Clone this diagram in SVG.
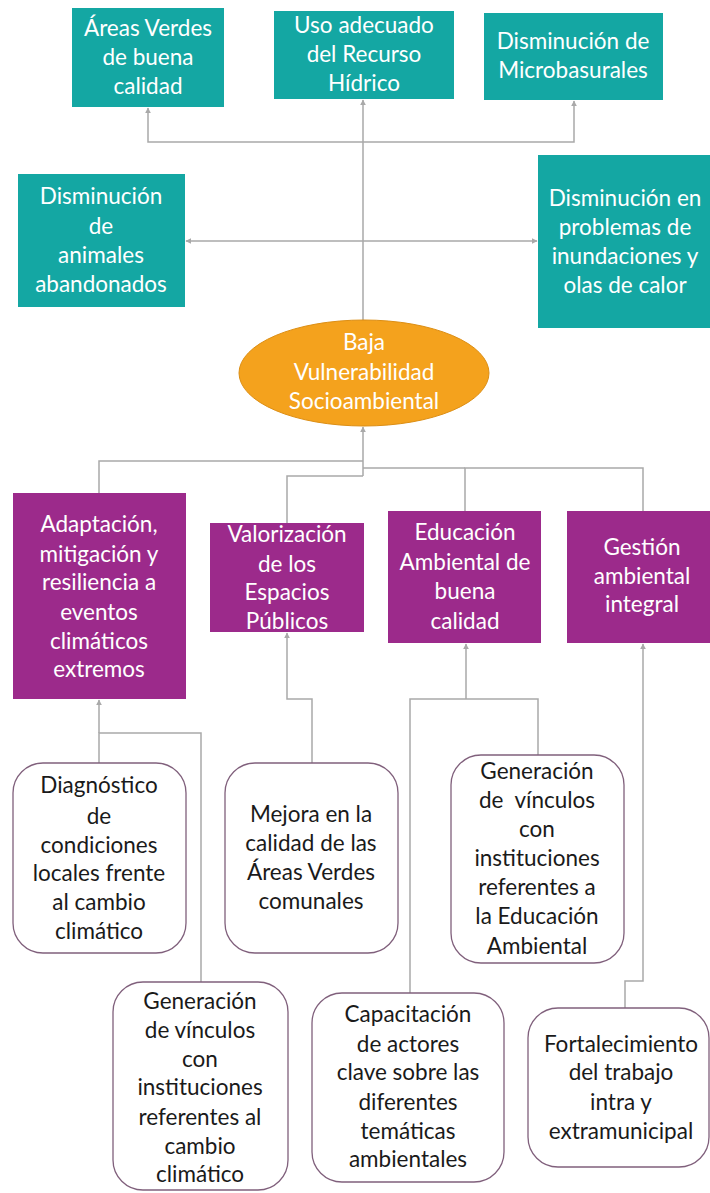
<svg xmlns="http://www.w3.org/2000/svg" width="710" height="1193" viewBox="0 0 710 1193">
<style>
.t{font-family:Lato,"Liberation Sans",sans-serif;font-size:22.5px;text-anchor:middle}
.w{fill:#ffffff}
.k{fill:#1a1a1a}
.teal{fill:#14A7A3}
.pur{fill:#9C2A8B}
.rb{fill:#ffffff;stroke:#80607C;stroke-width:1.3}
.c{fill:none;stroke:#A9A9A9;stroke-width:1.5}
</style>
<defs>
<marker id="ar" viewBox="0 0 10 10" refX="9" refY="5" markerWidth="6" markerHeight="6" markerUnits="userSpaceOnUse" orient="auto">
<path d="M0,0 L10,5 L0,10 z" fill="#A9A9A9"/>
</marker>
</defs>
<rect width="710" height="1193" fill="#ffffff"/>
<g id="connectors">
<path class="c" d="M363 320 V100" marker-end="url(#ar)"/>
<path class="c" d="M363 142 H148 V108" marker-end="url(#ar)"/>
<path class="c" d="M363 142 H574 V101" marker-end="url(#ar)"/>
<path class="c" d="M363 241 H186" marker-end="url(#ar)"/>
<path class="c" d="M363 241 H537" marker-end="url(#ar)"/>
<path class="c" d="M363 476 V427" marker-end="url(#ar)"/>
<path class="c" d="M99 493 V461 H363"/>
<path class="c" d="M287 523 V476 H363"/>
<path class="c" d="M465 511 V468 H643 V511"/>
<path class="c" d="M363 468 H465"/>
<path class="c" d="M99 763 V733 H201 V982"/>
<path class="c" d="M99 733 V700" marker-end="url(#ar)"/>
<path class="c" d="M312 763 V699 H287 V633" marker-end="url(#ar)"/>
<path class="c" d="M410 993 V699 H538 V755"/>
<path class="c" d="M466 699 V644" marker-end="url(#ar)"/>
<path class="c" d="M625 1008 V981 H643 V644" marker-end="url(#ar)"/>
</g>
<g id="n1"><rect class="teal" x="72" y="8" width="152" height="99"/>
<text class="t w" x="148" y="36">Áreas Verdes</text><text class="t w" x="148" y="65">de buena</text><text class="t w" x="148" y="94">calidad</text></g>
<g id="n2"><rect class="teal" x="274" y="11" width="180" height="88"/>
<text class="t w" x="364" y="33">Uso adecuado</text><text class="t w" x="364" y="62">del Recurso</text><text class="t w" x="364" y="91">Hídrico</text></g>
<g id="n3"><rect class="teal" x="484" y="13" width="179" height="87"/>
<text class="t w" x="573" y="49">Disminución de</text><text class="t w" x="573" y="78">Microbasurales</text></g>
<g id="n4"><rect class="teal" x="18" y="174" width="167" height="133"/>
<text class="t w" x="101" y="204">Disminución</text><text class="t w" x="101" y="234">de</text><text class="t w" x="101" y="263">animales</text><text class="t w" x="101" y="292">abandonados</text></g>
<g id="n5"><rect class="teal" x="538" y="155" width="172" height="173"/>
<text class="t w" x="625" y="206">Disminución en</text><text class="t w" x="625" y="235">problemas de</text><text class="t w" x="625" y="264">inundaciones y</text><text class="t w" x="625" y="293">olas de calor</text></g>
<g id="core"><ellipse cx="364" cy="373" rx="125" ry="53" fill="#F4A21D" stroke="#DC8E14" stroke-width="1"/>
<text class="t w" x="364" y="350">Baja</text><text class="t w" x="364" y="380">Vulnerabilidad</text><text class="t w" x="364" y="409">Socioambiental</text></g>
<g id="p1"><rect class="pur" x="13" y="493" width="173" height="206"/>
<text class="t w" x="99" y="532">Adaptación,</text><text class="t w" x="99" y="562">mitigación y</text><text class="t w" x="99" y="590">resiliencia a</text><text class="t w" x="99" y="620">eventos</text><text class="t w" x="99" y="649">climáticos</text><text class="t w" x="99" y="677">extremos</text></g>
<g id="p2"><rect class="pur" x="210" y="523" width="154" height="109"/>
<text class="t w" x="287" y="542">Valorización</text><text class="t w" x="287" y="572">de los</text><text class="t w" x="287" y="600">Espacios</text><text class="t w" x="287" y="629">Públicos</text></g>
<g id="p3"><rect class="pur" x="388" y="511" width="153" height="132"/>
<text class="t w" x="465" y="540">Educación</text><text class="t w" x="465" y="570">Ambiental de</text><text class="t w" x="465" y="599">buena</text><text class="t w" x="465" y="629">calidad</text></g>
<g id="p4"><rect class="pur" x="567" y="511" width="143" height="132"/>
<text class="t w" x="642" y="555">Gestión</text><text class="t w" x="642" y="584">ambiental</text><text class="t w" x="642" y="612">integral</text></g>
<g id="d1"><rect class="rb" x="13" y="763" width="173" height="190" rx="30"/>
<text class="t k" x="99" y="793">Diagnóstico</text><text class="t k" x="99" y="824">de</text><text class="t k" x="99" y="853">condiciones</text><text class="t k" x="99" y="881">locales frente</text><text class="t k" x="99" y="910">al cambio</text><text class="t k" x="99" y="939">climático</text></g>
<g id="d2"><rect class="rb" x="225" y="763" width="173" height="190" rx="30"/>
<text class="t k" x="311" y="822">Mejora en la</text><text class="t k" x="311" y="851">calidad de las</text><text class="t k" x="311" y="880">Áreas Verdes</text><text class="t k" x="311" y="909">comunales</text></g>
<g id="d3"><rect class="rb" x="451" y="755" width="173" height="208" rx="30"/>
<text class="t k" x="537" y="779">Generación</text><text class="t k" x="537" y="808" xml:space="preserve">de  vínculos</text><text class="t k" x="537" y="837">con</text><text class="t k" x="537" y="866">instituciones</text><text class="t k" x="537" y="895">referentes a</text><text class="t k" x="537" y="924">la Educación</text><text class="t k" x="537" y="954">Ambiental</text></g>
<g id="d4"><rect class="rb" x="113" y="982" width="175" height="208" rx="30"/>
<text class="t k" x="200" y="1009">Generación</text><text class="t k" x="200" y="1038">de vínculos</text><text class="t k" x="200" y="1067">con</text><text class="t k" x="200" y="1095">instituciones</text><text class="t k" x="200" y="1125">referentes al</text><text class="t k" x="200" y="1154">cambio</text><text class="t k" x="200" y="1182">climático</text></g>
<g id="d5"><rect class="rb" x="312" y="993" width="192" height="189" rx="30"/>
<text class="t k" x="408" y="1022">Capacitación</text><text class="t k" x="408" y="1052">de actores</text><text class="t k" x="408" y="1080">clave sobre las</text><text class="t k" x="408" y="1110">diferentes</text><text class="t k" x="408" y="1139">temáticas</text><text class="t k" x="408" y="1167">ambientales</text></g>
<g id="d6"><rect class="rb" x="528" y="1008" width="181" height="159" rx="30"/>
<text class="t k" x="621" y="1052">Fortalecimiento</text><text class="t k" x="621" y="1080">del trabajo</text><text class="t k" x="621" y="1110">intra y</text><text class="t k" x="621" y="1139">extramunicipal</text></g>
</svg>
